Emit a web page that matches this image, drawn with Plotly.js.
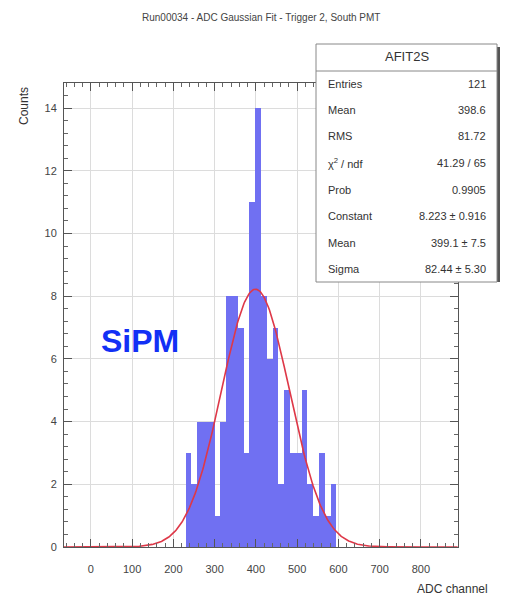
<!DOCTYPE html>
<html>
<head>
<meta charset="utf-8">
<script src="https://cdn.plot.ly/plotly-3.0.1.min.js"></script>
<style>
  html, body { margin: 0; padding: 0; background: #ffffff; }
  #chart { width: 507px; height: 600px; }
</style>
</head>
<body>
<div id="chart"></div>
<script>
// ---- histogram definition (ROOT TH1: 68 bins over the axis range) ----
const histRange = [-65, 890];
const histBins = [68];
const firstFilledBin = [21];
// counts of the filled bins, left to right
const counts = [3, 2, 4, 4, 4, 1, 4, 8, 8, 7, 3, 11, 14, 8, 6, 7, 2, 5, 3, 3, 5, 2, 1, 3, 1, 2];

// ---- Gaussian fit parameters (from the stats box) ----
const fitConstant = [8.223];
const fitMean = [399.1];
const fitSigma = [82.44];

// ---- stats box text ----
const statsName = "AFIT2S";
const statsLabels = ["Entries", "Mean", "RMS", "χ<sup>2</sup> / ndf", "Prob", "Constant", "Mean", "Sigma"];
const statsValues = ["121", "398.6", "81.72", "41.29 / 65", "0.9905", "8.223 ± 0.916", "399.1 ± 7.5", "82.44 ± 5.30"];

// ---- tick labels ----
const xTickVals = [0, 100, 200, 300, 400, 500, 600, 700, 800];
const yTickVals = [0, 2, 4, 6, 8, 10, 12, 14];

const titleText = "Run00034 - ADC Gaussian Fit - Trigger 2, South PMT";
const xTitle = "ADC channel";
const yTitle = "Counts";
const tagText = "SiPM";

// ---- derived ----
const binW = (histRange[1] - histRange[0]) / histBins[0];
const barX = counts.map((c, i) => histRange[0] + (firstFilledBin[0] + i + 0.5) * binW);

const gx = [], gy = [];
for (let x = histRange[0]; x <= histRange[1] + 1e-9; x += 2) {
  gx.push(x);
  const z = (x - fitMean[0]) / fitSigma[0];
  gy.push(fitConstant[0] * Math.exp(-0.5 * z * z));
}

// plot-area geometry in pixels
const W = 507, H = 600;
const L = 64, R = 458, T = 83, B = 547;
const pw = R - L, ph = B - T;
const px = p => (p - L) / pw;
const py = p => (B - p) / ph;

const font = "Liberation Sans, Arial, Helvetica, sans-serif";
const txt = "#333333";

const annotations = [];
const shapes = [];

// title
annotations.push({ xref: "paper", yref: "paper", x: px(261), y: py(18), text: titleText,
  showarrow: false, xanchor: "center", yanchor: "middle", font: { family: font, size: 10, color: "#444" } });
// axis titles
annotations.push({ xref: "paper", yref: "paper", x: px(490), y: py(589), text: xTitle,
  showarrow: false, xanchor: "right", yanchor: "middle", font: { family: font, size: 12, color: txt } });
annotations.push({ xref: "paper", yref: "paper", x: px(24), y: py(85), text: yTitle, textangle: -90,
  showarrow: false, xanchor: "center", yanchor: "top", font: { family: font, size: 12, color: txt } });
// SiPM tag
annotations.push({ xref: "paper", yref: "paper", x: px(140), y: py(341), text: "<b>" + tagText + "</b>",
  showarrow: false, xanchor: "center", yanchor: "middle", font: { family: font, size: 32, color: "#1230f5" } });

// stats box
const bx0 = 316, bx1 = 497, by0 = 44, by1 = 282, sep = 71;
shapes.push({ type: "rect", xref: "paper", yref: "paper", x0: px(bx1), x1: px(bx1 + 3), y0: py(by1), y1: py(by0 + 3),
  fillcolor: "#555", line: { width: 0 }, layer: "above" });
shapes.push({ type: "rect", xref: "paper", yref: "paper", x0: px(bx0), x1: px(bx1), y0: py(by1), y1: py(by0),
  fillcolor: "#ffffff", line: { color: "#888", width: 1 }, layer: "above" });
shapes.push({ type: "line", xref: "paper", yref: "paper", x0: px(bx0), x1: px(bx1), y0: py(sep), y1: py(sep),
  line: { color: "#888", width: 1 }, layer: "above" });
annotations.push({ xref: "paper", yref: "paper", x: px((bx0 + bx1) / 2), y: py(57), text: statsName,
  showarrow: false, xanchor: "center", yanchor: "middle", font: { family: font, size: 13, color: txt } });
const rowY = [84, 110, 136, 163, 190, 216, 243, 269];
statsLabels.forEach((lab, i) => {
  annotations.push({ xref: "paper", yref: "paper", x: px(326), y: py(rowY[i]), text: lab,
    showarrow: false, xanchor: "left", yanchor: "middle", font: { family: font, size: 11, color: txt } });
  annotations.push({ xref: "paper", yref: "paper", x: px(488), y: py(rowY[i]), text: statsValues[i],
    showarrow: false, xanchor: "right", yanchor: "middle", font: { family: font, size: 11, color: txt } });
});

const traces = [
  { type: "bar", x: barX, y: counts, width: binW, marker: { color: "rgb(112,112,242)", line: { width: 0 } },
    hoverinfo: "skip" },
  { type: "scatter", mode: "lines", x: gx, y: gy, line: { color: "rgb(222,56,72)", width: 1.6 },
    hoverinfo: "skip" }
];

const axisCommon = {
  showline: true, linecolor: "#555", linewidth: 1, mirror: "allticks",
  ticks: "inside", tickcolor: "#555", ticklen: 8, tickwidth: 1,
  showgrid: true, gridcolor: "#dcdcdc", gridwidth: 1, zeroline: false,
  tickfont: { family: font, size: 11, color: "#444" }
};

const layout = {
  width: W, height: H,
  paper_bgcolor: "#ffffff", plot_bgcolor: "#ffffff",
  margin: { l: L, r: W - R, t: T, b: H - B, pad: 0 },
  showlegend: false,
  bargap: 0,
  xaxis: Object.assign({}, axisCommon, {
    range: histRange, tickmode: "array", tickvals: xTickVals, ticktext: xTickVals.map(String),
    ticklabelstandoff: 12,
    minor: { dtick: 20, tick0: 0, ticks: "inside", ticklen: 4, tickcolor: "#666", showgrid: false }
  }),
  yaxis: Object.assign({}, axisCommon, {
    range: [0, 14.8], tickmode: "array", tickvals: yTickVals, ticktext: yTickVals.map(String),
    ticklabelstandoff: 4,
    minor: { dtick: 0.4, tick0: 0, ticks: "inside", ticklen: 4, tickcolor: "#666", showgrid: false }
  }),
  annotations: annotations,
  shapes: shapes
};

Plotly.newPlot("chart", traces, layout, { staticPlot: true, displayModeBar: false });
</script>
</body>
</html>
